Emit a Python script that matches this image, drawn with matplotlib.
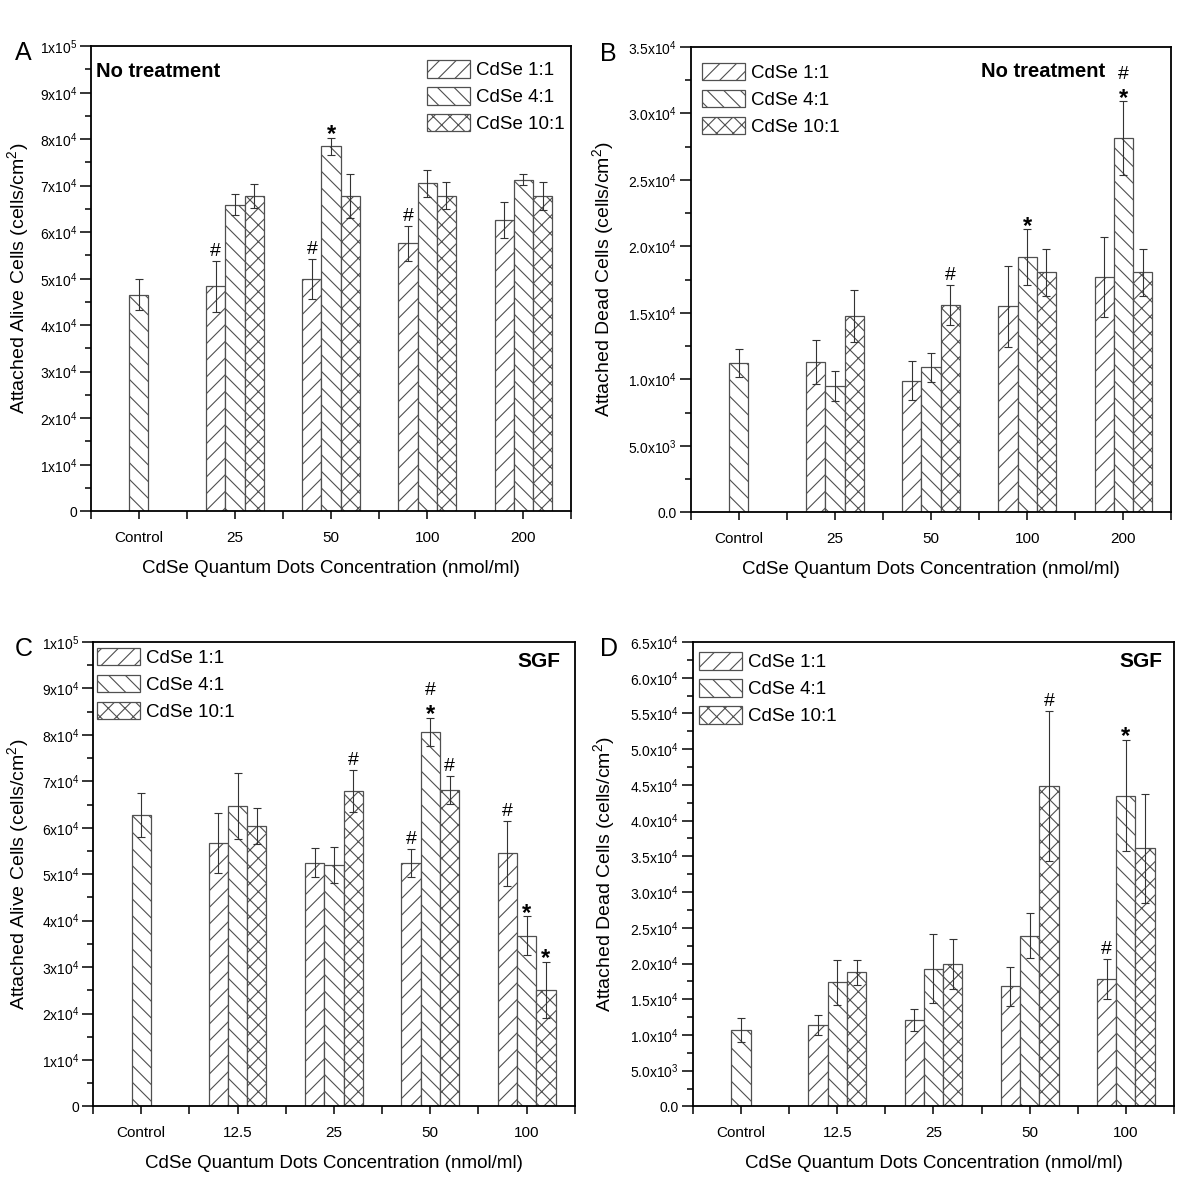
import numpy as np
import matplotlib.pyplot as plt
from matplotlib.ticker import MultipleLocator, FuncFormatter

plt.rcParams['font.family'] = ['Liberation Sans', 'DejaVu Sans']
plt.rcParams['hatch.linewidth'] = 0.8

series = ['CdSe 1:1', 'CdSe 4:1', 'CdSe 10:1']
hatches = ['//', '\\\\', 'xx']

# A: alive cells, no treatment
groups_a = ['Control', '25', '50', '100', '200']
ctrl_a, ctrl_a_err = 46600, 3300
a_11 = [48400, 50000, 57600, 62700]
a_11_err = [5500, 4300, 3700, 3900]
a_41 = [65900, 78500, 70500, 71300]
a_41_err = [2300, 1800, 2900, 1200]
a_101 = [67800, 67800, 67800, 67700]
a_101_err = [2600, 4700, 2900, 3000]
marks_a = [(1, 0, '#'), (2, 0, '#'), (2, 1, '*'), (3, 0, '#')]

# B: dead cells, no treatment
groups_b = ['Control', '25', '50', '100', '200']
ctrl_b, ctrl_b_err = 11200, 1050
b_11 = [11300, 9900, 15500, 17700]
b_11_err = [1650, 1450, 3050, 3000]
b_41 = [9500, 10900, 19200, 28150]
b_41_err = [1150, 1100, 2100, 2750]
b_101 = [14750, 15600, 18050, 18050]
b_101_err = [1950, 1500, 1750, 1750]
marks_b = [(2, 2, '#'), (3, 1, '*'), (4, 1, '*#')]

# C: alive cells, SGF
groups_c = ['Control', '12.5', '25', '50', '100']
ctrl_c, ctrl_c_err = 62800, 4700
c_11 = [56700, 52500, 52400, 54500]
c_11_err = [6500, 3200, 3000, 7000]
c_41 = [64700, 51900, 80600, 36800]
c_41_err = [7100, 3900, 3100, 4100]
c_101 = [60400, 67900, 68100, 25100]
c_101_err = [3900, 4600, 3000, 6000]
marks_c = [(2, 2, '#'), (3, 0, '#'), (3, 1, '*#'), (3, 2, '#'),
           (4, 0, '#'), (4, 1, '*'), (4, 2, '*')]

# D: dead cells, SGF
groups_d = ['Control', '12.5', '25', '50', '100']
ctrl_d, ctrl_d_err = 10700, 1700
d_11 = [11350, 12150, 16800, 17900]
d_11_err = [1400, 1550, 2700, 2800]
d_41 = [17350, 19300, 23900, 43500]
d_41_err = [3100, 4800, 3100, 7800]
d_101 = [18750, 20000, 44900, 36100]
d_101_err = [1800, 3500, 10500, 7600]
marks_d = [(3, 2, '#'), (4, 0, '#'), (4, 1, '*')]

EDGE = '#505050'
ERR = '#333333'


def fmt_int(v, pos):
    if v <= 0:
        return '0'
    e = int(np.floor(np.log10(v) + 1e-9))
    return r'$\mathregular{%gx10^{%d}}$' % (round(v / 10**e), e)


def fmt_dec(v, pos):
    if v <= 0:
        return '0.0'
    e = int(np.floor(np.log10(v) + 1e-9))
    return r'$\mathregular{%.1fx10^{%d}}$' % (v / 10**e, e)


def panel(rect, letter, letter_dx, groups, ctrl, ctrl_err, vals, errs, marks,
          ymax, major, fmt, ylabel, tag, tag_pos, tag_ha, leg_loc, leg_anchor,
          ylab_x):
    ax = fig.add_axes(rect)
    w = 0.2
    x = np.arange(1, len(groups))
    ekw = dict(ecolor=ERR, elinewidth=0.8, capsize=3, capthick=0.8)
    ax.bar(0, ctrl, w, yerr=ctrl_err, color='white', edgecolor=EDGE,
           linewidth=0.9, hatch=hatches[1], error_kw=ekw)
    tops = {}
    for i in range(3):
        xs = x + (i - 1) * w
        ax.bar(xs, vals[i], w, yerr=errs[i], color='white', edgecolor=EDGE,
               linewidth=0.9, hatch=hatches[i], label=series[i], error_kw=ekw)
        for j in range(len(xs)):
            tops[(j + 1, i)] = (xs[j], vals[i][j] + errs[i][j])
    for g, s, sym in marks:
        xx, yy = tops[(g, s)]
        for k, ch in enumerate(sym):
            if ch == '#':
                off, size, wt = 3.5 + k * 12.5, 14, 'normal'
            else:
                off, size, wt = -2.5, 17, 'bold'
            ax.annotate(ch, (xx, yy), xytext=(0, off), textcoords='offset points',
                        ha='center', va='baseline', fontsize=size, fontweight=wt)
    ax.set_xlim(-0.5, len(groups) - 0.5)
    ax.set_ylim(0, ymax)
    ax.set_xticks(range(len(groups)))
    ax.set_xticklabels(groups)
    ax.set_xticks(np.arange(-0.5, len(groups), 1.0), minor=True)
    ax.yaxis.set_major_locator(MultipleLocator(major))
    ax.yaxis.set_minor_locator(MultipleLocator(major / 2))
    ax.yaxis.set_major_formatter(FuncFormatter(fmt))
    ax.tick_params(axis='both', which='both', direction='out', width=1.1, pad=2)
    ax.tick_params(axis='y', which='major', length=8, labelsize=10)
    ax.tick_params(axis='y', which='minor', length=4.5)
    ax.tick_params(axis='x', which='both', length=6, pad=8, labelsize=11)
    for sp in ax.spines.values():
        sp.set_linewidth(1.3)
    ax.set_ylabel(ylabel, fontsize=14)
    ax.yaxis.set_label_coords(ylab_x, 0.5)
    ax.set_xlabel('CdSe Quantum Dots Concentration (nmol/ml)', fontsize=13.5)
    ax.xaxis.set_label_coords(0.5, -0.105)
    ax.xaxis.label.set_va('top')
    ax.text(tag_pos[0], tag_pos[1], tag, transform=ax.transAxes, ha=tag_ha,
            va='top', fontsize=15 if tag == 'SGF' else 14.5, fontweight='bold')
    ax.legend(loc=leg_loc, bbox_to_anchor=leg_anchor, frameon=False, fontsize=13.5,
              handlelength=2.3, handleheight=1.05, handletextpad=0.3,
              labelspacing=0.42, borderaxespad=0.0, borderpad=0.0)
    fig.text(rect[0] - letter_dx, rect[1] + rect[3] + 0.004, letter, fontsize=18,
             ha='left', va='top')
    return ax


fig = plt.figure(figsize=(12, 12), dpi=100)

panel([0.0756, 0.574, 0.4006, 0.3875], 'A', 0.063, groups_a, ctrl_a, ctrl_a_err,
      [a_11, a_41, a_101], [a_11_err, a_41_err, a_101_err], marks_a,
      1e5, 1e4, fmt_int, r'Attached Alive Cells (cells/cm$\mathregular{^2}$)',
      'No treatment', (0.012, 0.965), 'left', 'upper right', (0.985, 0.97), -0.124)

panel([0.5756, 0.573, 0.4006, 0.388], 'B', 0.0756, groups_b, ctrl_b, ctrl_b_err,
      [b_11, b_41, b_101], [b_11_err, b_41_err, b_101_err], marks_b,
      3.5e4, 5e3, fmt_dec, r'Attached Dead Cells (cells/cm$\mathregular{^2}$)',
      'No treatment', (0.862, 0.967), 'right', 'upper left', (0.023, 0.965), -0.155)

panel([0.0775, 0.078, 0.4015, 0.387], 'C', 0.065, groups_c, ctrl_c, ctrl_c_err,
      [c_11, c_41, c_101], [c_11_err, c_41_err, c_101_err], marks_c,
      1e5, 1e4, fmt_int, r'Attached Alive Cells (cells/cm$\mathregular{^2}$)',
      'SGF', (0.971, 0.978), 'right', 'upper left', (0.008, 0.987), -0.129)

panel([0.5775, 0.078, 0.4008, 0.387], 'D', 0.0775, groups_d, ctrl_d, ctrl_d_err,
      [d_11, d_41, d_101], [d_11_err, d_41_err, d_101_err], marks_d,
      6.5e4, 5e3, fmt_dec, r'Attached Dead Cells (cells/cm$\mathregular{^2}$)',
      'SGF', (0.977, 0.978), 'right', 'upper left', (0.012, 0.978), -0.158)

fig.savefig('out.png', dpi=100)
